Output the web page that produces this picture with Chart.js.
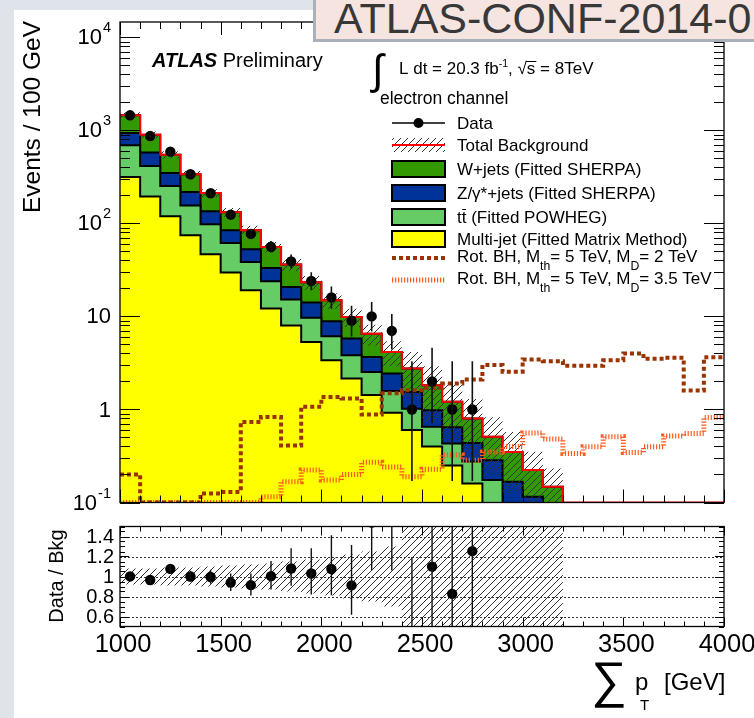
<!DOCTYPE html>
<html>
<head>
<meta charset="utf-8">
<script src="https://cdn.jsdelivr.net/npm/chart.js@4.4.1/dist/chart.umd.min.js"></script>
<style>
  html, body { margin: 0; padding: 0; width: 754px; height: 718px; overflow: hidden; background: #dfe4ea; }
  #page { position: absolute; left: 14px; top: 10px; width: 740px; height: 708px; background: #fff; }
  canvas { position: absolute; left: 0; }
  #banner {
    position: absolute; left: 313px; top: -4px; width: 460px; height: 46px;
    background: #f5e4e0; border: 3px solid #a9b2ba; border-right: none;
    font: 43px "Liberation Sans", Arial, sans-serif; color: #383838;
    line-height: 38px; padding-left: 18px; white-space: nowrap; overflow: hidden; box-sizing: border-box;
  }
</style>
</head>
<body>
<div id="page"></div>
<canvas id="main" width="754" height="515" style="top:0"></canvas>
<canvas id="ratio" width="754" height="203" style="top:515px"></canvas>
<div id="banner">ATLAS-CONF-2014-01</div>
<script>
// ---- binning (GeV) ----
const binLow = [1000, 1100, 1200, 1300, 1400, 1500, 1600, 1700, 1800, 1900,
                2000, 2100, 2200, 2300, 2400, 2500, 2600, 2700, 2800, 2900,
                3000, 3100, 3200, 3300, 3400, 3500, 3600, 3700, 3800, 3900];
const binWidth = 100;

// ---- background processes, events per bin (first 22 bins, 1000-3200 GeV) ----
const multijet = [315, 195, 119, 74.5, 46.6, 29.6, 19.1, 12.2, 8.0, 5.3, 3.39, 2.15, 1.43, 0.92, 0.60, 0.40, 0.25, 0.16, 0.06, 0.03, 0.02, 0.01];
const ttbar    = [375, 219, 133, 81.5, 51.0, 31.9, 19.4, 11.7, 7.2, 4.4, 2.74, 1.68, 1.09, 0.66, 0.42, 0.25, 0.18, 0.116, 0.114, 0.05, 0.03, 0.01];
const zjets    = [245, 162, 96, 61, 37, 22.8, 14.2, 9.3, 5.5, 4.4, 2.75, 1.96, 1.15, 0.86, 0.52, 0.33, 0.215, 0.16, 0.11, 0.087, 0.065, 0.03];
const wjets    = [514, 323, 200, 120, 77.4, 47.7, 31.6, 22.6, 15.4, 9.2, 6.0, 4.09, 2.83, 1.71, 1.22, 0.84, 0.565, 0.362, 0.224, 0.183, 0.108, 0.098];
// relative uncertainty of the total background
const bkgRelErr = [0.08, 0.08, 0.09, 0.09, 0.10, 0.11, 0.12, 0.13, 0.15, 0.17, 0.19, 0.22, 0.25, 0.30, 0.50, 0.60, 0.62, 0.62, 0.62, 0.64, 0.57, 0.57];

// ---- observed data (first 18 bins) with asymmetric errors ----
const dataCounts = [1450, 868, 590, 337, 211, 124, 77, 56, 39, 24, 16, 9, 10, 7, 1, 2, 1, 1];
const dataErrLow  = [38, 29, 24, 18, 14.5, 11, 8.8, 7.5, 6.2, 4.9, 3.9, 2.9, 3.1, 2.6, 0.83, 1.29, 0.83, 0.83];
const dataErrHigh = [39, 30, 25, 19, 15.5, 12, 9.8, 8.5, 7.3, 5.9, 5.0, 4.0, 4.3, 3.6, 2.3, 2.6, 2.3, 2.3];

// ---- rotating black hole signals, M_th = 5 TeV (all 30 bins) ----
const sigMD2  = [0.2, 0.1, 0.1, 0.1, 0.125, 0.13, 0.735, 0.83, 0.41, 1.07, 1.36, 1.31, 0.88, 1.49, 1.61,
                 1.7, 1.9, 2.1, 3.0, 2.55, 3.45, 3.3, 2.95, 2.95, 3.39, 4.0, 3.5, 3.6, 1.6, 3.65];
const sigMD35 = [0.1, 0.1, 0.1, 0.1, 0.1, 0.1, 0.1, 0.115, 0.167, 0.223, 0.174, 0.2, 0.27, 0.24, 0.189,
                 0.228, 0.323, 0.285, 0.35, 0.4, 0.56, 0.48, 0.337, 0.397, 0.508, 0.345, 0.397, 0.52, 0.553, 0.82];

// ---- axis tick labels ----
const xTickLabels = ['1000', '1500', '2000', '2500', '3000', '3500', '4000'];
const yDecades = [-1, 0, 1, 2, 3, 4];
const ratioTickLabels = ['0.6', '0.8', '1', '1.2', '1.4'];

const FONT = '"Liberation Sans", Arial, Helvetica, sans-serif';
const Y_MIN = 0.1, Y_MAX = 14600;
const X_MIN = 1000, X_MAX = 4000;

// ---------- derived histogram tables ----------
function cumulative(...parts) {
  return parts[0].map((_, i) => parts.reduce((s, p) => s + p[i], 0));
}
const stackMJ = multijet.slice();
const stackTT = cumulative(multijet, ttbar);
const stackZ  = cumulative(multijet, ttbar, zjets);
const total   = cumulative(multijet, ttbar, zjets, wjets);

// step outline: one point per left bin edge, one for the final right edge
function stepPoints(values, dropTo) {
  const pts = values.map((v, i) => ({ x: binLow[i], y: v }));
  const end = binLow[values.length - 1] + binWidth;
  pts.push({ x: end, y: values[values.length - 1] });
  if (dropTo !== undefined) pts.push({ x: end, y: dropTo });
  return pts;
}
const centers = dataCounts.map((_, i) => binLow[i] + binWidth / 2);

// hatch pattern "////"
function makeHatch(ctx, color) {
  const s = 7;
  const c = document.createElement('canvas');
  c.width = s; c.height = s;
  const g = c.getContext('2d');
  g.strokeStyle = color; g.lineWidth = 1;
  g.beginPath();
  g.moveTo(-1, s + 1); g.lineTo(s + 1, -1);
  g.moveTo(-1 - s, s + 1); g.lineTo(1, -1);
  g.moveTo(s - 1, s + 1); g.lineTo(2 * s + 1, -1);
  g.stroke();
  return ctx.createPattern(c, 'repeat');
}

const mainCtx = document.getElementById('main').getContext('2d');
const ratioCtx = document.getElementById('ratio').getContext('2d');
const hatchMain = makeHatch(mainCtx, '#333');
const hatchRatio = makeHatch(ratioCtx, '#333');

const COL = { w: '#339900', z: '#003399', tt: '#66cc66', mj: '#ffff00', red: '#ff0000', brown: '#993300', orange: '#ff5a1f' };
const DASH_MD2 = [4, 3], DASH_MD35 = [1.2, 1.8];

function stepDS(values, opts) {
  return Object.assign({
    data: stepPoints(values, 0.001), stepped: true, borderColor: '#000', borderWidth: 2,
    pointRadius: 0, fill: 'start', tension: 0
  }, opts);
}

// ---------- drawing helpers ----------
function hline(ctx, x1, x2, y) { ctx.beginPath(); ctx.moveTo(x1, y); ctx.lineTo(x2, y); ctx.stroke(); }
function vline(ctx, x, y1, y2) { ctx.beginPath(); ctx.moveTo(x, y1); ctx.lineTo(x, y2); ctx.stroke(); }

function drawXTicks(ctx, a, x, major, minor) {
  ctx.lineWidth = 1; ctx.strokeStyle = '#000';
  for (let v = X_MIN; v <= X_MAX; v += 100) {
    const px = Math.round(x.getPixelForValue(v)) + 0.5;
    const len = (v % 500 === 0) ? major : minor;
    vline(ctx, px, a.bottom, a.bottom - len);
    vline(ctx, px, a.top, a.top + len);
  }
}

function textWithScripts(ctx, parts, x, y, size) {
  // parts: [text, mode] where mode '' | 'sup' | 'sub'
  let cx = x;
  for (const [t, mode] of parts) {
    if (mode === 'sup') {
      ctx.font = `${size * 0.62}px ${FONT}`;
      ctx.fillText(t, cx, y - size * 0.42);
    } else if (mode === 'sub') {
      ctx.font = `${size * 0.72}px ${FONT}`;
      ctx.fillText(t, cx, y + size * 0.45);
    } else {
      ctx.font = `${size}px ${FONT}`;
      ctx.fillText(t, cx, y);
    }
    cx += ctx.measureText(t).width;
  }
  return cx;
}

// ---------- main panel decorations ----------
const mainDecor = {
  id: 'mainDecor',
  afterDatasetsDraw(chart) {
    const { ctx, chartArea: a, scales: { x, y } } = chart;
    ctx.save();
    ctx.beginPath(); ctx.rect(a.left, a.top, a.right - a.left, a.bottom - a.top); ctx.clip();
    ctx.strokeStyle = '#111'; ctx.lineWidth = 1.6;
    centers.forEach((c, i) => {
      const px = x.getPixelForValue(c);
      vline(ctx, px, y.getPixelForValue(dataCounts[i] - dataErrLow[i]), y.getPixelForValue(dataCounts[i] + dataErrHigh[i]));
    });
    ctx.restore();
  },
  afterDraw(chart) {
    const { ctx, chartArea: a, scales: { x, y } } = chart;
    ctx.save();
    // frame
    ctx.strokeStyle = '#000'; ctx.lineWidth = 1.3;
    ctx.strokeRect(a.left, a.top, a.right - a.left, a.bottom - a.top);
    drawXTicks(ctx, a, x, 13, 7);
    // log y ticks on both sides
    ctx.lineWidth = 1;
    yDecades.forEach(d => {
      for (let k = 1; k <= 9; k++) {
        const v = k * Math.pow(10, d);
        if (v < Y_MIN || v > Y_MAX) continue;
        const py = Math.round(y.getPixelForValue(v)) + 0.5;
        const len = k === 1 ? 20 : 10;
        hline(ctx, a.left, a.left + len, py);
        hline(ctx, a.right, a.right - len, py);
      }
    });
    // y tick labels
    ctx.fillStyle = '#000'; ctx.textBaseline = 'middle';
    yDecades.forEach(d => {
      const py = y.getPixelForValue(Math.pow(10, d));
      if (d === 0 || d === 1) {
        ctx.font = `22px ${FONT}`; ctx.textAlign = 'right';
        ctx.fillText(d === 0 ? '1' : '10', 111, py + 1);
      } else {
        const exp = String(d);
        ctx.font = `14.5px ${FONT}`; ctx.textAlign = 'right';
        ctx.fillText(exp, 111, py - 9);
        const ew = ctx.measureText(exp).width;
        ctx.font = `22px ${FONT}`;
        ctx.fillText('10', 111 - ew - 1, py + 1);
      }
    });
    // y title
    ctx.save();
    ctx.translate(33, 21); ctx.rotate(-Math.PI / 2);
    ctx.font = `24.5px ${FONT}`; ctx.textAlign = 'right'; ctx.textBaseline = 'middle';
    ctx.fillText('Events / 100 GeV', 0, 0);
    ctx.restore();

    // ATLAS label
    ctx.textAlign = 'left'; ctx.textBaseline = 'alphabetic';
    ctx.font = `italic bold 20px ${FONT}`;
    ctx.fillText('ATLAS', 152, 67);
    const aw = ctx.measureText('ATLAS ').width;
    ctx.font = `20px ${FONT}`;
    ctx.fillText('Preliminary', 152 + aw, 67);

    // luminosity line
    ctx.font = `42px ${FONT}`;
    ctx.fillText('\u222B', 372, 84);
    let cx = textWithScripts(ctx, [['L dt = 20.3 fb', ''], ['-1', 'sup'], [', ', '']], 399, 74, 17);
    ctx.font = `17px ${FONT}`;
    ctx.fillText('\u221As', cx, 74);
    const rw = ctx.measureText('\u221A').width, sw = ctx.measureText('s').width;
    ctx.lineWidth = 1; ctx.strokeStyle = '#000';
    hline(ctx, cx + rw - 1, cx + rw + sw + 1, 61.5);
    cx += ctx.measureText('\u221As').width;
    ctx.fillText(' = 8TeV', cx, 74);
    ctx.font = `17.5px ${FONT}`;
    ctx.fillText('electron channel', 380, 104);

    // legend
    const lx1 = 392, lx2 = 445, tx = 457;
    const rows = [123, 145, 169, 193, 217, 239, 258, 280];
    ctx.textBaseline = 'middle';
    // data
    ctx.strokeStyle = '#000'; ctx.lineWidth = 1.5;
    hline(ctx, lx1, lx2, rows[0]);
    ctx.beginPath(); ctx.arc((lx1 + lx2) / 2, rows[0], 5, 0, 2 * Math.PI); ctx.fillStyle = '#000'; ctx.fill();
    // total background
    ctx.fillStyle = hatchMain; ctx.fillRect(lx1, rows[1] - 7, lx2 - lx1, 14);
    ctx.strokeStyle = COL.red; ctx.lineWidth = 2; hline(ctx, lx1, lx2, rows[1]);
    // filled boxes
    [[COL.w, 2], [COL.z, 3], [COL.tt, 4], [COL.mj, 5]].forEach(([c, r]) => {
      ctx.fillStyle = c; ctx.fillRect(lx1, rows[r] - 8, lx2 - lx1, 16);
      ctx.strokeStyle = '#000'; ctx.lineWidth = 2; ctx.strokeRect(lx1, rows[r] - 8, lx2 - lx1, 16);
    });
    // signal styles
    ctx.setLineDash(DASH_MD2); ctx.lineWidth = 4; ctx.strokeStyle = COL.brown; hline(ctx, lx1, lx2, rows[6]);
    ctx.setLineDash(DASH_MD35); ctx.lineWidth = 5; ctx.strokeStyle = COL.orange; hline(ctx, lx1, lx2, rows[7]);
    ctx.setLineDash([]);
    ctx.fillStyle = '#000'; ctx.textAlign = 'left'; ctx.textBaseline = 'alphabetic';
    const lf = 17, base = 6;
    ctx.font = `${lf}px ${FONT}`;
    ctx.fillText('Data', tx, rows[0] + base);
    ctx.fillText('Total Background', tx, rows[1] + base);
    ctx.fillText('W+jets (Fitted SHERPA)', tx, rows[2] + base);
    ctx.fillText('Z/\u03B3*+jets (Fitted SHERPA)', tx, rows[3] + base);
    ctx.fillText('tt (Fitted POWHEG)', tx, rows[4] + base);
    const tw = ctx.measureText('t').width;
    ctx.lineWidth = 1; ctx.strokeStyle = '#000';
    hline(ctx, tx + tw + 0.5, tx + 2 * tw - 0.5, rows[4] - 7.5);
    ctx.fillText('Multi-jet (Fitted Matrix Method)', tx, rows[5] + base);
    textWithScripts(ctx, [['Rot. BH, M', ''], ['th', 'sub'], ['= 5 TeV, M', ''], ['D', 'sub'], ['= 2 TeV', '']], tx, rows[6] + base - 2, lf);
    textWithScripts(ctx, [['Rot. BH, M', ''], ['th', 'sub'], ['= 5 TeV, M', ''], ['D', 'sub'], ['= 3.5 TeV', '']], tx, rows[7] + base - 2, lf);
    ctx.restore();
  }
};

new Chart(mainCtx, {
  type: 'line',
  data: {
    datasets: [
      { label: 'Data', data: centers.map((c, i) => ({ x: c, y: dataCounts[i] })), showLine: false,
        pointRadius: 5.2, pointBackgroundColor: '#000', pointBorderColor: '#000', pointBorderWidth: 0 },
      { label: 'Rot. BH MD=2', data: stepPoints(sigMD2), stepped: true, borderColor: COL.brown,
        borderWidth: 4, borderDash: DASH_MD2, pointRadius: 0, fill: false },
      { label: 'Rot. BH MD=3.5', data: stepPoints(sigMD35), stepped: true, borderColor: COL.orange,
        borderWidth: 5, borderDash: DASH_MD35, pointRadius: 0, fill: false },
      { label: 'Total', data: stepPoints(total, Y_MIN).concat([{ x: X_MAX, y: Y_MIN }]), stepped: true,
        borderColor: COL.red, borderWidth: 2, pointRadius: 0, fill: false },
      { label: 'Band up', data: stepPoints(total.map((t, i) => t * (1 + bkgRelErr[i]))), stepped: true,
        borderWidth: 0, borderColor: 'rgba(0,0,0,0)', pointRadius: 0, fill: '+1', backgroundColor: hatchMain },
      { label: 'Band down', data: stepPoints(total.map((t, i) => t * (1 - bkgRelErr[i]))), stepped: true,
        borderWidth: 0, borderColor: 'rgba(0,0,0,0)', pointRadius: 0, fill: false },
      stepDS(stackMJ, { label: 'Multi-jet', backgroundColor: COL.mj }),
      stepDS(stackTT, { label: 'ttbar', backgroundColor: COL.tt }),
      stepDS(stackZ,  { label: 'Z+jets', backgroundColor: COL.z }),
      stepDS(total,   { label: 'W+jets', backgroundColor: COL.w })
    ]
  },
  options: {
    responsive: false, animation: false, devicePixelRatio: 1,
    layout: { padding: { left: 120, right: 30, top: 22, bottom: 12.5 } },
    scales: {
      x: { type: 'linear', min: X_MIN, max: X_MAX, display: false },
      y: { type: 'logarithmic', min: Y_MIN, max: Y_MAX, display: false }
    },
    plugins: { legend: { display: false }, tooltip: { enabled: false } }
  },
  plugins: [mainDecor]
});

// ---------- ratio panel ----------
const ratio = dataCounts.map((d, i) => d / total[i]);
const ratioLo = dataCounts.map((d, i) => (d - dataErrLow[i]) / total[i]);
const ratioHi = dataCounts.map((d, i) => (d + dataErrHigh[i]) / total[i]);

const ratioDecor = {
  id: 'ratioDecor',
  beforeDatasetsDraw(chart) {
    const { ctx, chartArea: a, scales: { y } } = chart;
    ctx.save();
    ctx.strokeStyle = '#333'; ctx.lineWidth = 1; ctx.setLineDash([2, 2]);
    [0.6, 0.8, 1.0, 1.2, 1.4].forEach(v => hline(ctx, a.left, a.right, Math.round(y.getPixelForValue(v)) + 0.5));
    ctx.restore();
  },
  afterDatasetsDraw(chart) {
    const { ctx, chartArea: a, scales: { x, y } } = chart;
    ctx.save();
    ctx.beginPath(); ctx.rect(a.left, a.top, a.right - a.left, a.bottom - a.top); ctx.clip();
    ctx.strokeStyle = '#111'; ctx.lineWidth = 1.4;
    centers.forEach((c, i) => {
      vline(ctx, x.getPixelForValue(c), y.getPixelForValue(ratioLo[i]), y.getPixelForValue(ratioHi[i]));
    });
    ctx.restore();
  },
  afterDraw(chart) {
    const { ctx, chartArea: a, scales: { x, y } } = chart;
    ctx.save();
    ctx.strokeStyle = '#000'; ctx.lineWidth = 1.3;
    ctx.strokeRect(a.left, a.top, a.right - a.left, a.bottom - a.top);
    drawXTicks(ctx, a, x, 9, 5);
    ctx.lineWidth = 1;
    for (let i = 0; i <= 20; i++) {
      const v = 0.5 + i * 0.05;
      const py = Math.round(y.getPixelForValue(v)) + 0.5;
      const major = i % 4 === 2;
      const len = major ? 9 : 5;
      hline(ctx, a.left, a.left + len, py);
      hline(ctx, a.right, a.right - len, py);
    }
    ctx.fillStyle = '#000';
    ctx.font = `20px ${FONT}`; ctx.textAlign = 'right'; ctx.textBaseline = 'middle';
    ratioTickLabels.forEach(t => ctx.fillText(t, 114, y.getPixelForValue(parseFloat(t)) + 1));
    ctx.font = `25.5px ${FONT}`; ctx.textAlign = 'center'; ctx.textBaseline = 'alphabetic';
    xTickLabels.forEach(t => ctx.fillText(t, x.getPixelForValue(parseFloat(t)) + 3, 137));
    // y title
    ctx.save();
    ctx.translate(57, 61); ctx.rotate(-Math.PI / 2);
    ctx.font = `20px ${FONT}`; ctx.textAlign = 'center'; ctx.textBaseline = 'middle';
    ctx.fillText('Data / Bkg', 0, 0);
    ctx.restore();
    // x title
    ctx.textAlign = 'left';
    ctx.font = `50px ${FONT}`;
    ctx.fillText('\u2211', 591, 182);
    ctx.font = `24px ${FONT}`;
    ctx.fillText('p', 635, 175);
    ctx.font = `15px ${FONT}`;
    ctx.fillText('T', 640, 195);
    ctx.font = `24px ${FONT}`;
    ctx.fillText('[GeV]', 664, 175);
    ctx.restore();
  }
};

new Chart(ratioCtx, {
  type: 'line',
  data: {
    datasets: [
      { label: 'Ratio', data: centers.map((c, i) => ({ x: c, y: ratio[i] })), showLine: false,
        pointRadius: 5.2, pointBackgroundColor: '#000', pointBorderWidth: 0 },
      { label: 'Band up', data: stepPoints(bkgRelErr.map(e => 1 + e)), stepped: true, borderWidth: 0,
        borderColor: 'rgba(0,0,0,0)', pointRadius: 0, fill: '+1', backgroundColor: hatchRatio },
      { label: 'Band down', data: stepPoints(bkgRelErr.map(e => 1 - e)), stepped: true, borderWidth: 0,
        borderColor: 'rgba(0,0,0,0)', pointRadius: 0, fill: false }
    ]
  },
  options: {
    responsive: false, animation: false, devicePixelRatio: 1,
    layout: { padding: { left: 120, right: 30, top: 11.5, bottom: 91.5 } },
    scales: {
      x: { type: 'linear', min: X_MIN, max: X_MAX, display: false },
      y: { type: 'linear', min: 0.5, max: 1.5, display: false }
    },
    plugins: { legend: { display: false }, tooltip: { enabled: false } }
  },
  plugins: [ratioDecor]
});
</script>
</body>
</html>
